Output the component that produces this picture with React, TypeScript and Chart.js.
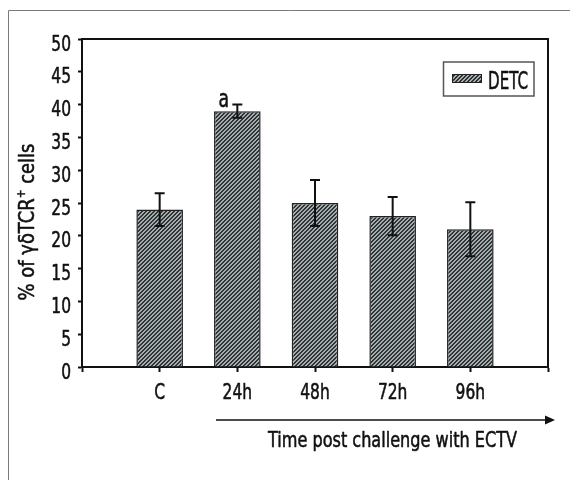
import { useEffect, useRef } from 'react';
import { Chart, registerables } from 'chart.js';

Chart.register(...registerables);

const FONT = '"DejaVu Sans Condensed", "DejaVu Sans", sans-serif';

const categories = ['', 'C', '24h', '48h', '72h', '96h', ''];
const seriesLabel = 'DETC';
const means: (number | null)[] = [null, 24, 39, 25, 23, 21, null];
const errors: (number | null)[] = [null, 2.5, 1, 3.5, 2.9, 4.1, null];
const marks = ['', '', 'a', '', '', '', ''];
const yMin = 0;
const yMax = 50;
const yStep = 5;
const yTitleParts = ['% of γδTCR', '+', ' cells'];
const xTitle = 'Time post challenge with ECTV';

function makePattern(): CanvasPattern | string {
  const c = document.createElement('canvas');
  c.width = 4;
  c.height = 4;
  const g = c.getContext('2d');
  if (!g) return '#666';
  g.fillStyle = '#a4acae';
  g.fillRect(0, 0, 4, 4);
  g.fillStyle = '#2f3537';
  for (let x = 0; x < 4; x++)
    for (let y = 0; y < 4; y++) if ((x + y) % 4 < 2) g.fillRect(x, y, 1, 1);
  return g.createPattern(c, 'repeat') || '#666';
}

function drawText(
  ctx: CanvasRenderingContext2D,
  text: string,
  x: number,
  y: number,
  size: number,
  sx: number,
  align: 'left' | 'center' | 'right',
  weight = 0.55,
) {
  ctx.save();
  ctx.font = `${size}px ${FONT}`;
  const w = ctx.measureText(text).width * sx;
  const left = align === 'center' ? x - w / 2 : align === 'right' ? x - w : x;
  ctx.translate(left, y);
  ctx.scale(sx, 1);
  ctx.textAlign = 'left';
  ctx.textBaseline = 'alphabetic';
  ctx.fillStyle = '#111';
  ctx.strokeStyle = '#111';
  ctx.lineWidth = weight;
  ctx.lineJoin = 'round';
  ctx.fillText(text, 0, 0);
  if (weight > 0) ctx.strokeText(text, 0, 0);
  ctx.restore();
}

function fitScale(ctx: CanvasRenderingContext2D, text: string, size: number, target: number) {
  ctx.save();
  ctx.font = `${size}px ${FONT}`;
  const w = ctx.measureText(text).width;
  ctx.restore();
  return w > 0 ? target / w : 1;
}

export default function App() {
  const ref = useRef<HTMLCanvasElement | null>(null);

  useEffect(() => {
    if (!ref.current) return;
    const pattern = makePattern();

    const decor = {
      id: 'decor',
      beforeDraw(chart: any) {
        const ctx = chart.ctx as CanvasRenderingContext2D;
        ctx.save();
        ctx.fillStyle = '#fff';
        ctx.fillRect(0, 0, chart.width, chart.height);
        ctx.strokeStyle = '#7a7a7a';
        ctx.lineWidth = 1;
        ctx.beginPath();
        ctx.moveTo(8.5, chart.height);
        ctx.lineTo(8.5, 10.5);
        ctx.lineTo(chart.width, 10.5);
        ctx.stroke();
        ctx.restore();
      },
      afterDraw(chart: any) {
        const ctx = chart.ctx as CanvasRenderingContext2D;
        const a = chart.chartArea;
        const xs = chart.scales.x;
        const ys = chart.scales.y;
        ctx.save();
        ctx.strokeStyle = '#111';
        ctx.fillStyle = '#111';
        ctx.lineWidth = 2;
        ctx.beginPath();
        ctx.moveTo(a.left, a.top);
        ctx.lineTo(a.right, a.top);
        ctx.lineTo(a.right, a.bottom);
        ctx.stroke();

        // y tick labels
        ys.ticks.forEach((t: any) => {
          const py = ys.getPixelForValue(t.value);
          drawText(ctx, String(t.value), a.left - 11, py + 11.5, 22, 0.78, 'right');
        });
        // x tick labels
        categories.forEach((c, i) => {
          if (!c) return;
          drawText(ctx, c, xs.getPixelForValue(i), 398.5, 22, 0.78, 'center');
        });

        // error bars
        ctx.strokeStyle = '#111';
        ctx.lineWidth = 2;
        means.forEach((m, i) => {
          const e = errors[i];
          if (m == null || e == null) return;
          const cx = xs.getPixelForValue(i);
          const yt = ys.getPixelForValue(m + e);
          const yb = ys.getPixelForValue(m - e);
          ctx.beginPath();
          ctx.moveTo(cx, yt);
          ctx.lineTo(cx, yb);
          ctx.moveTo(cx - 5, yt);
          ctx.lineTo(cx + 5, yt);
          ctx.moveTo(cx - 5, yb);
          ctx.lineTo(cx + 5, yb);
          ctx.stroke();
        });

        // significance marks
        marks.forEach((t, i) => {
          const m = means[i];
          if (!t || m == null) return;
          drawText(ctx, t, xs.getPixelForValue(i) - 13.5, ys.getPixelForValue(m) - 4, 24, 0.8, 'center');
        });

        // legend
        ctx.strokeStyle = '#555';
        ctx.lineWidth = 1.5;
        ctx.strokeRect(443.5, 62, 90.5, 34);
        ctx.fillStyle = pattern as any;
        ctx.fillRect(452, 74, 30, 9);
        ctx.strokeStyle = '#222';
        ctx.lineWidth = 1;
        ctx.strokeRect(452.5, 74.5, 29, 8);
        drawText(ctx, seriesLabel, 488, 88.5, 24, fitScale(ctx, seriesLabel, 24, 40), 'left');

        // x title with arrow
        ctx.strokeStyle = '#111';
        ctx.fillStyle = '#111';
        ctx.lineWidth = 1.5;
        ctx.beginPath();
        ctx.moveTo(216, 420);
        ctx.lineTo(547, 420);
        ctx.stroke();
        ctx.beginPath();
        ctx.moveTo(555, 420);
        ctx.lineTo(545, 415.5);
        ctx.lineTo(545, 424.5);
        ctx.closePath();
        ctx.fill();
        drawText(ctx, xTitle, 392.5, 447, 22, fitScale(ctx, xTitle, 22, 249), 'center');

        // y title (rotated)
        ctx.save();
        ctx.translate(34, 222);
        ctx.rotate(-Math.PI / 2);
        const bigS = 22;
        const smallS = 13;
        const full = yTitleParts[0] + yTitleParts[2];
        const sx = fitScale(ctx, full, bigS, 148);
        ctx.font = `${bigS}px ${FONT}`;
        const w0 = ctx.measureText(yTitleParts[0]).width * sx;
        const w2 = ctx.measureText(yTitleParts[2]).width * sx;
        ctx.font = `${smallS}px ${FONT}`;
        const w1 = ctx.measureText(yTitleParts[1]).width * sx;
        let px = -(w0 + w1 + w2) / 2;
        drawText(ctx, yTitleParts[0], px, 0, bigS, sx, 'left');
        px += w0;
        drawText(ctx, yTitleParts[1], px, -9, smallS, sx, 'left', 0.4);
        px += w1;
        drawText(ctx, yTitleParts[2], px, 0, bigS, sx, 'left');
        ctx.restore();

        ctx.restore();
      },
    };

    const chart = new Chart(ref.current, {
      type: 'bar',
      data: {
        labels: categories,
        datasets: [
          {
            label: seriesLabel,
            data: means as any,
            backgroundColor: pattern as any,
            borderColor: '#222',
            borderWidth: 1.5,
            barPercentage: 0.6,
            categoryPercentage: 1,
          },
        ],
      },
      options: {
        animation: false,
        responsive: true,
        maintainAspectRatio: false,
        layout: { padding: { left: 0, right: 22, top: 39, bottom: 0 } },
        plugins: { legend: { display: false }, tooltip: { enabled: false } },
        scales: {
          x: {
            offset: false,
            grid: {
              display: true,
              offset: false,
              drawOnChartArea: false,
              tickLength: 5,
              tickColor: '#111',
              tickWidth: 2,
            },
            border: { display: true, color: '#111', width: 2 },
            ticks: { display: false, autoSkip: false, maxRotation: 0 },
            afterFit: (s: any) => {
              s.height = 113;
            },
          },
          y: {
            min: yMin,
            max: yMax,
            grid: { display: true, drawOnChartArea: false, tickLength: 4, tickColor: '#111', tickWidth: 2 },
            border: { display: true, color: '#111', width: 2 },
            ticks: { display: false, stepSize: yStep },
            afterFit: (s: any) => {
              s.width = 82;
            },
          },
        },
      },
      plugins: [decor],
    });
    return () => chart.destroy();
  }, []);

  return (
    <div style={{ position: 'fixed', left: 0, top: 0, width: 570, height: 480 }}>
      <canvas ref={ref} />
    </div>
  );
}
